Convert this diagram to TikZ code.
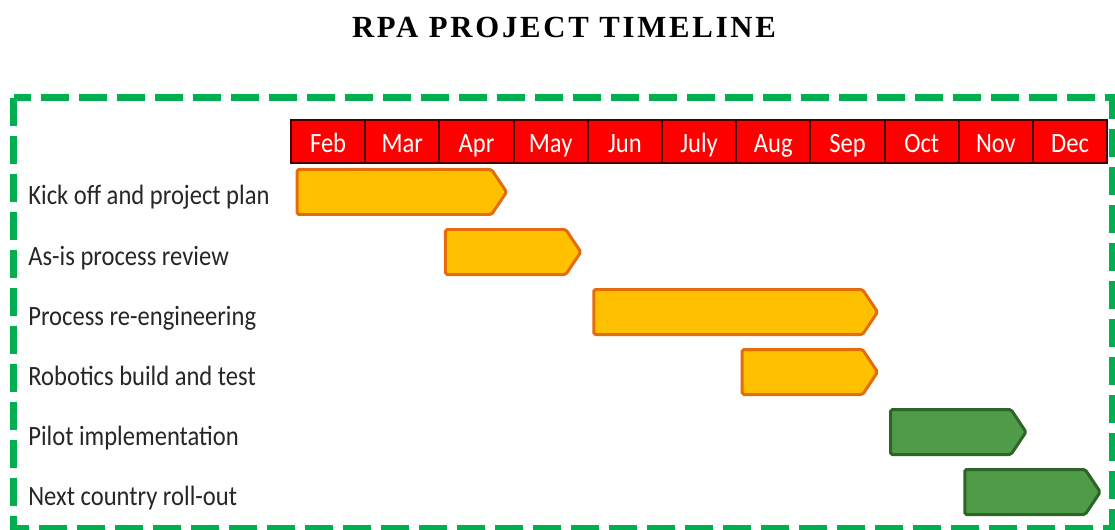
\documentclass[tikz,border=0pt]{standalone}
\usepackage{fontspec}
\setmainfont{Carlito}[FakeStretch=0.88]
\newfontfamily\titlefont{Liberation Serif}[LetterSpace=9]
\definecolor{hdrline}{RGB}{70,0,0}
\definecolor{frameg}{RGB}{0,176,80}
\definecolor{ambfill}{RGB}{255,192,0}
\definecolor{ambline}{RGB}{228,108,10}
\definecolor{grfill}{RGB}{80,155,72}
\definecolor{grline}{RGB}{45,100,40}
\begin{document}
\begin{tikzpicture}[x=0.02cm,y=-0.02cm,font=\fontsize{15.9}{19}\selectfont]
  \tikzstyle{month}=[draw=hdrline,line width=0.04cm,fill=red,text=white,minimum width=1.484cm,minimum height=0.86cm,inner sep=0pt,text height=0.46cm,text depth=0pt]
  \tikzstyle{task}=[anchor=base west,inner sep=0pt,text=black!85]
  \tikzstyle{phase}=[fill=ambfill,draw=ambline,line width=0.06cm,rounded corners=1pt]
  \tikzstyle{live}=[fill=grfill,draw=grline,line width=0.06cm,rounded corners=1pt]
  \useasboundingbox (0,0) rectangle (1115,530);
  \node[anchor=base,inner sep=0pt,font=\titlefont\bfseries\fontsize{17.5}{20}\selectfont] at (564,38) (title) {RPA PROJECT TIMELINE};
  \draw[frameg,line width=0.14cm,dash pattern=on 0.56cm off 0.2cm] (13.5,98) rectangle (1112,528);
  \foreach \m [count=\i from 0] in {Feb,Mar,Apr,May,Jun,July,Aug,Sep,Oct,Nov,Dec} {\node[month] at (328.1+74.2*\i,141.5) (m\i) {\m};}
  \foreach \t [count=\r] in {Kick off and project plan,As-is process review,Process re-engineering,Robotics build and test,Pilot implementation,Next country roll-out}
    {\node[task] at (28,145+60*\r) (t\r) {\t};}
  \foreach \r/\s/\e/\c in {1/0/2/phase,2/2/3/phase,3/4/7/phase,4/6/7/phase,5/8/9/live,6/9/10/live}{
    \draw[\c] (297+74.2*\s,109.5+60*\r) -- (343.2+74.2*\e,109.5+60*\r) -- (358.2+74.2*\e,132+60*\r)
      -- (343.2+74.2*\e,154.5+60*\r) -- (297+74.2*\s,154.5+60*\r) -- cycle;
  }
\end{tikzpicture}
\end{document}
